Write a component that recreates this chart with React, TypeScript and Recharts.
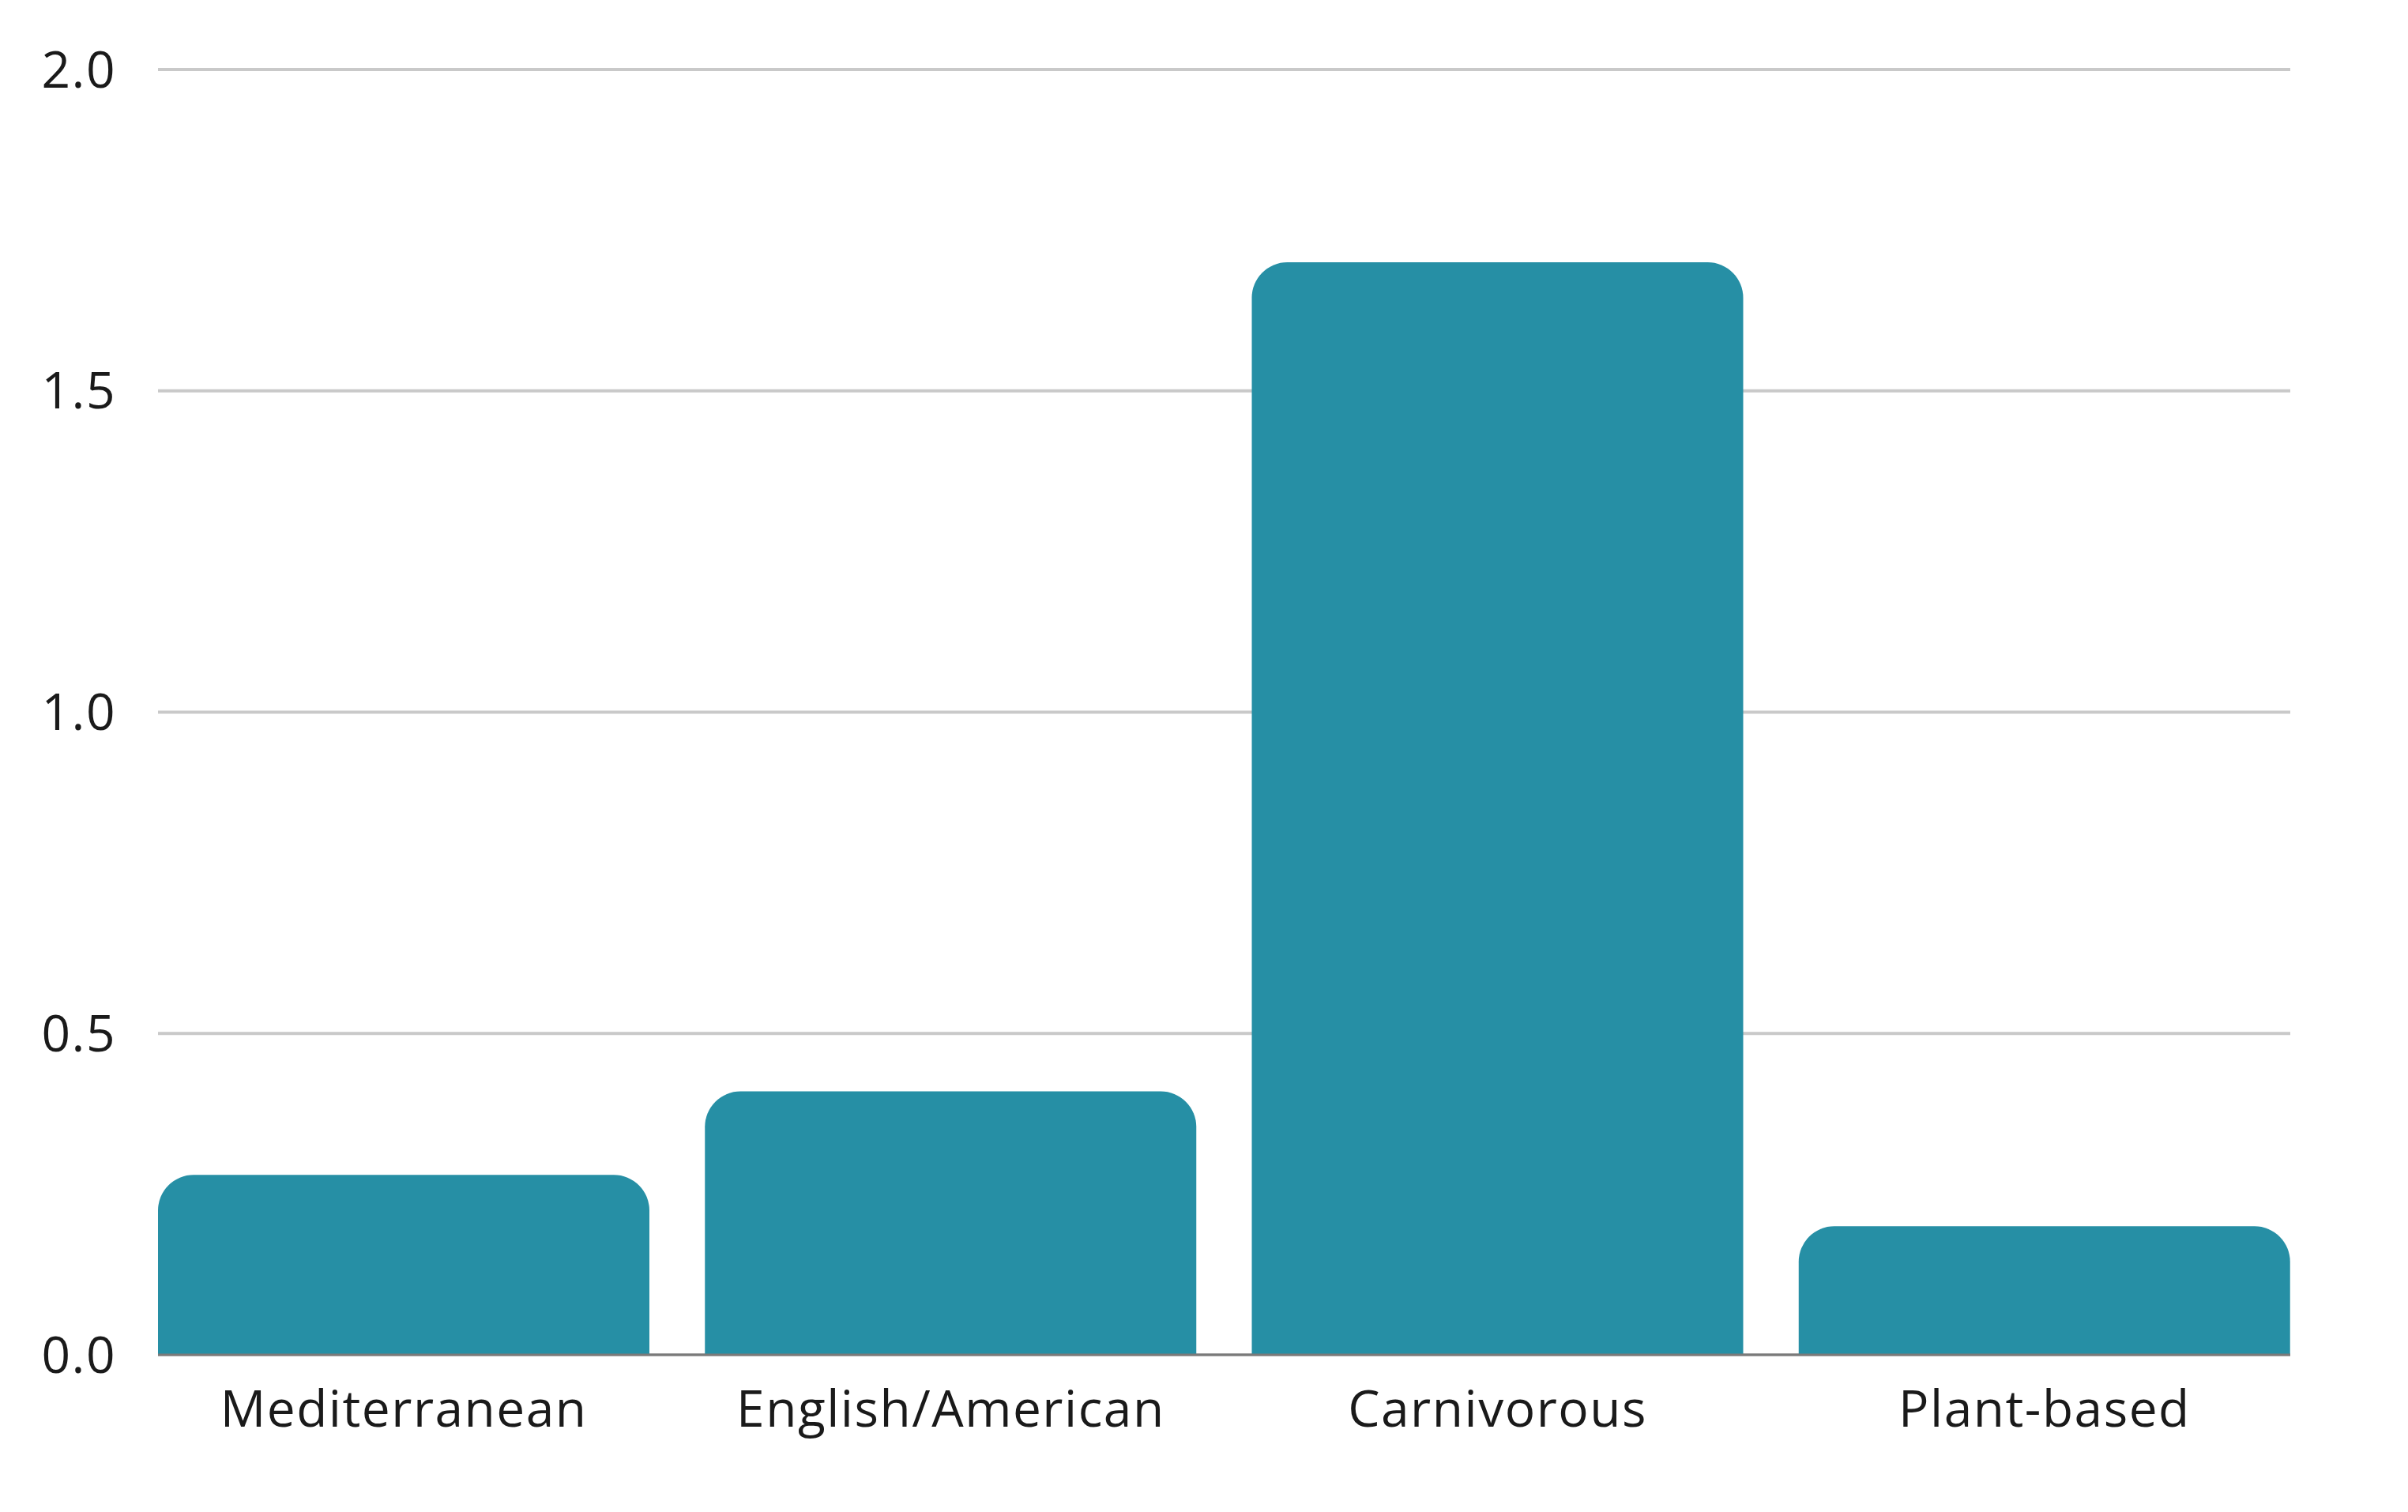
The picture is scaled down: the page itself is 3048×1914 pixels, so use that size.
import {Bar, BarChart, CartesianGrid, XAxis, YAxis} from 'recharts';

const diets = ['Mediterranean', 'English/American', 'Carnivorous', 'Plant-based'];
const values = [0.28, 0.41, 1.7, 0.2];
const yTicks = [0, 0.5, 1, 1.5, 2];

const data = diets.map((name, i) => ({name, value: values[i]}));

const tickStyle = {fill: '#1a1a1a', fontSize: 64, letterSpacing: 1.5, fontFamily: '"Open Sans", sans-serif'};

export default function App() {
  return (
    <div style={{background: '#fff'}}>
      <BarChart width={3040} height={1906} data={data} margin={{top: 80, right: 149, bottom: 79, left: 0}}>
        <CartesianGrid vertical={false} stroke="#c9c9c9" strokeWidth={4} />
        <XAxis
          dataKey="name"
          axisLine={{stroke: '#7a7a7a', strokeWidth: 3}}
          tickLine={false}
          tickSize={0}
          tickMargin={46}
          height={120}
          padding={{left: -35, right: -35}}
          tick={tickStyle}
          interval={0}
        />
        <YAxis
          domain={[0, 2]}
          ticks={yTicks}
          tickFormatter={(v: number) => v.toFixed(1)}
          axisLine={false}
          tickLine={false}
          tickSize={0}
          tickMargin={53}
          width={192}
          tick={tickStyle}
        />
        <Bar dataKey="value" fill="#268fa5" barSize={622} radius={[45, 45, 0, 0]} isAnimationActive={false} />
      </BarChart>
    </div>
  );
}
